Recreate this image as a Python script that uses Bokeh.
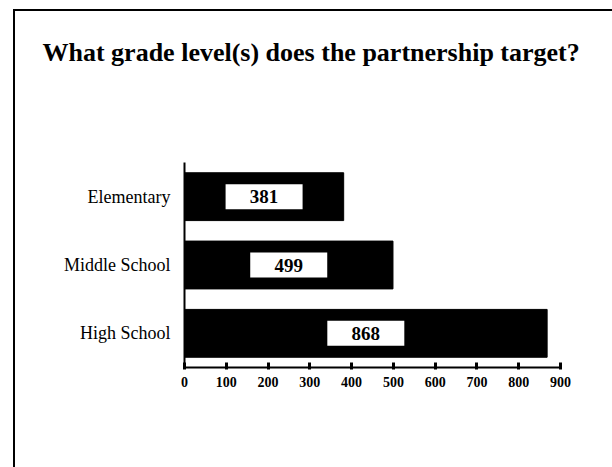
from bokeh.plotting import figure
from bokeh.models import FactorRange, Range1d, FixedTicker, Title, InlineStyleSheet
from bokeh.core.properties import value
from bokeh.embed import file_html
from bokeh.resources import INLINE

title_text = "What grade level(s) does the partnership target?"
categories = ["Elementary", "Middle School", "High School"]
counts = [381, 499, 868]
x_ticks = [0, 100, 200, 300, 400, 500, 600, 700, 800, 900]

SERIF = "Liberation Serif"
W, H = 612, 467
FL, FR, FT, FB = 184, 52, 162, 100   # frame margins

p = figure(
    width=W, height=H,
    x_range=Range1d(0, 900),
    y_range=FactorRange(factors=list(reversed(categories))),
    output_backend="svg", toolbar_location=None,
    min_border_left=FL, min_border_right=FR,
    min_border_top=FT, min_border_bottom=FB,
    background_fill_color="white", border_fill_color="white",
    title=None,
)
# page rule on the left and top
p.stylesheets = [InlineStyleSheet(css="""
:host { position: relative; overflow: hidden; }
:host::after {
  content: ""; position: absolute; left: 13px; top: 9px; width: 620px; height: 470px;
  border-left: 2px solid #000; border-top: 2px solid #000;
  border-right: 0; border-bottom: 0;
  pointer-events: none;
}
""")]
p.outline_line_color = None
p.xgrid.grid_line_color = None
p.ygrid.grid_line_color = None

p.hbar(y=categories, right=counts, left=0, height=0.7,
       fill_color="black", line_color="black")

half = [c / 2 for c in counts]
p.rect(x=half, y=categories, width=77, height=25,
       width_units="screen", height_units="screen",
       fill_color="white", line_color=None)
p.text(x=half, y=categories, text=[str(c) for c in counts],
       text_align="center", text_baseline="middle",
       text_font=value(SERIF), text_font_style="bold",
       text_font_size="19px", text_color="black")

xa = p.xaxis[0]
xa.ticker = FixedTicker(ticks=x_ticks)
xa.axis_line_width = 2
xa.axis_line_color = "black"
xa.major_tick_line_width = 3
xa.major_tick_in = 5
xa.major_tick_out = 2
xa.minor_tick_line_color = None
xa.major_label_text_font = SERIF
xa.major_label_text_font_style = "bold"
xa.major_label_text_font_size = "14px"
xa.major_label_standoff = 7
xa.major_label_text_color = "black"

ya = p.yaxis[0]
ya.axis_line_width = 2
ya.axis_line_color = "black"
ya.major_tick_line_color = None
ya.major_tick_out = 0
ya.major_tick_in = 0
ya.major_label_standoff = 14
ya.major_label_text_font = SERIF
ya.major_label_text_font_size = "18px"
ya.major_label_text_color = "black"

# spacer panel next to the frame, then the title above it
p.add_layout(Title(text=" ", text_font_size="1px", standoff=93), "above")
p.add_layout(Title(text=title_text, align="left", offset=42 - FL, standoff=0,
                   text_font=SERIF, text_font_style="bold",
                   text_font_size="26px", text_color="black"), "above")

open("out.html", "w").write(file_html(p, INLINE))
